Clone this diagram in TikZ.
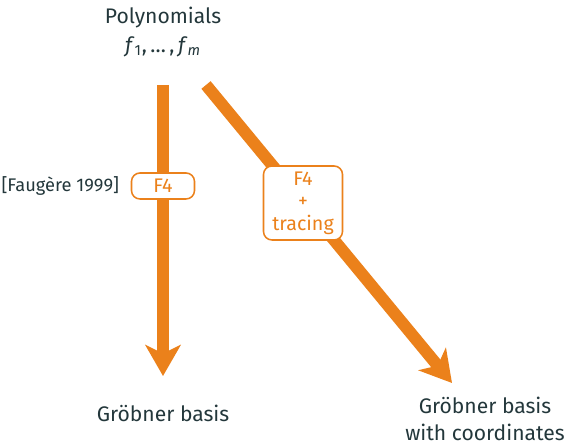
\documentclass[tikz,border=0pt]{standalone}
\usepackage{fontspec}
\setmainfont{Fira Sans}
\usetikzlibrary{arrows.meta}

\definecolor{mOrange}{HTML}{EB811B}
\definecolor{mDark}{HTML}{23373B}

\tikzset{
    flow/.style={draw=mOrange, line width=8.5pt,
        -{Stealth[length=22pt, width=25pt, inset=6pt]}},
    algobox/.style={draw=mOrange, line width=1.1pt, rounded corners=6pt,
        fill=white, text=mOrange, align=center, inner sep=0pt,
        font=\fontsize{14}{16}\selectfont},
    label/.style={text=mDark, align=center, font=\fontsize{15}{19}\selectfont},
}

\begin{document}
\begin{tikzpicture}[x=0.025cm, y=-0.025cm]
    \useasboundingbox (0, 0) rectangle (566, 444);

    % inputs
    \node[label] (poly) at (163, 32) {Polynomials\\[1pt]
        \textit{f}\textsubscript{1},\,…\,,\,\textit{f}\textsubscript{\textit{m}}};

    % outputs
    \node[label] (gb) at (163, 413) {Gröbner basis};
    \node[label] (gbc) at (485, 419) {Gröbner basis\\with coordinates};

    % arrows, ends fixed by hand
    \coordinate (s1) at (163, 85);
    \coordinate (e1) at (163, 376);
    \coordinate (s2) at (206, 85);
    \coordinate (e2) at (452, 383);
    \draw[flow] (s1) -- (e1);
    \draw[flow] (s2) -- (e2);

    % algorithm boxes on top of the arrows
    \node[algobox, minimum width=63*0.025cm, minimum height=26*0.025cm]
        (f4) at (163, 186) {F4};
    \node[algobox, minimum width=79*0.025cm, minimum height=74*0.025cm]
        (f4t) at (303, 203)
        {F4\\[0pt]{\fontsize{14}{14}\selectfont +}\\[0pt]tracing};

    \node[text=mDark, font=\fontsize{13}{15}\selectfont, anchor=east]
        (ref) at (124, 186) {[Faugère 1999]};
\end{tikzpicture}
\end{document}
